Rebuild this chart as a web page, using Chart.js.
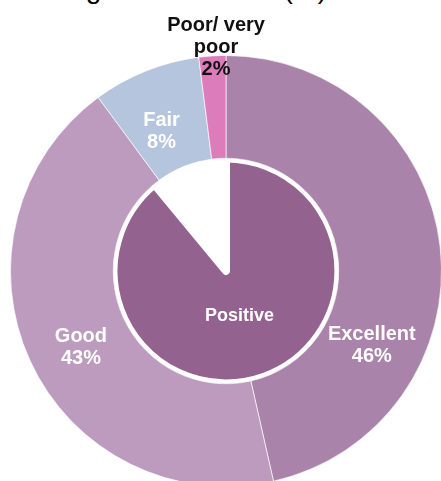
<!DOCTYPE html>
<html>
<head>
<meta charset="utf-8">
<script src="https://cdn.jsdelivr.net/npm/chart.js@4.4.1/dist/chart.umd.min.js"></script>
<style>
    html, body { margin: 0; padding: 0; background: #fff; overflow: hidden; width: 441px; height: 481px; }
    #title { position: absolute; top: -25px; right: 114px; white-space: nowrap; font: 28px "Liberation Sans", Arial, sans-serif; line-height: 28px; color: #000; }
    #wrap { position: absolute; left: 0; top: 0; width: 460px; height: 510px; }
</style>
</head>
<body>
<div id="title">Overall rating of the service (%)</div>
<div id="wrap"><canvas id="ratingChart"></canvas></div>
<script>
// Outer ring: rating breakdown
const ratingNames = ['Excellent', 'Good', 'Fair', 'Poor/ very poor'];
const ratingLines = [['Excellent'], ['Good'], ['Fair'], ['Poor/ very', 'poor']];
const ratingValues = [46, 43, 8, 2];
const ratingColors = ['#a983aa', '#bd9bbf', '#b5c5de', '#dc7cbb'];

// Inner pie: positive share vs the rest
const summaryNames = ['Positive', 'Other'];
const summaryValues = [89, 11];
const summaryColors = ['#93628f', '#ffffff'];

// draws text labels along each arc (at = position along the arc, r = share of arc radius)
const ringLabels = {
    id: 'ringLabels',
    afterDatasetsDraw(chart, args, opts) {
        const ctx = chart.ctx;
        opts.items.forEach(item => {
            const arc = chart.getDatasetMeta(item.dataset).data[item.index];
            const p = arc.getProps(['x', 'y', 'startAngle', 'endAngle', 'outerRadius'], true);
            const a = p.startAngle + (p.endAngle - p.startAngle) * item.at;
            const cx = p.x + Math.cos(a) * p.outerRadius * item.r;
            const cy = p.y + Math.sin(a) * p.outerRadius * item.r;
            ctx.save();
            ctx.font = item.font;
            ctx.fillStyle = item.color;
            ctx.textAlign = 'center';
            ctx.textBaseline = 'middle';
            const n = item.lines.length;
            item.lines.forEach((line, i) => {
                ctx.fillText(line, cx, cy + (i - (n - 1) / 2) * 22);
            });
            ctx.restore();
        });
    }
};

const labelFont = 'bold 20px "Liberation Sans", Arial, sans-serif';
const placement = [
    { at: 0.70, r: 0.76, color: '#ffffff' },
    { at: 0.48, r: 0.76, color: '#ffffff' },
    { at: 0.40, r: 0.715, color: '#ffffff' },
    { at: 0.65, r: 1.04, color: '#111111' }
];
const labelItems = ratingValues.map((v, i) => ({
    dataset: 0, index: i,
    at: placement[i].at, r: placement[i].r,
    color: placement[i].color, font: labelFont,
    lines: ratingLines[i].concat([v + '%'])
}));
labelItems.push({
    dataset: 1, index: 0, at: 0.51, r: 0.42, color: '#ffffff',
    font: 'bold 18px "Liberation Sans", Arial, sans-serif',
    lines: [summaryNames[0]]
});

new Chart(document.getElementById('ratingChart'), {
    type: 'doughnut',
    data: {
        labels: ratingNames,
        datasets: [{
            data: ratingValues,
            backgroundColor: ratingColors,
            borderColor: 'rgba(255,255,255,0.65)',
            borderWidth: 1,
            hoverBorderWidth: 1,
            weight: 103
        }, {
            data: summaryValues,
            backgroundColor: summaryColors,
            borderColor: '#ffffff',
            borderWidth: 4,
            hoverBorderWidth: 4,
            borderAlign: 'inner',
            weight: 113
        }]
    },
    options: {
        responsive: true,
        maintainAspectRatio: false,
        animation: false,
        events: [],
        cutout: 0,
        layout: { padding: { left: 10, top: 55, right: 18, bottom: 23 } },
        plugins: {
            legend: { display: false },
            tooltip: { enabled: false },
            ringLabels: { items: labelItems }
        }
    },
    plugins: [ringLabels]
});
</script>
</body>
</html>
